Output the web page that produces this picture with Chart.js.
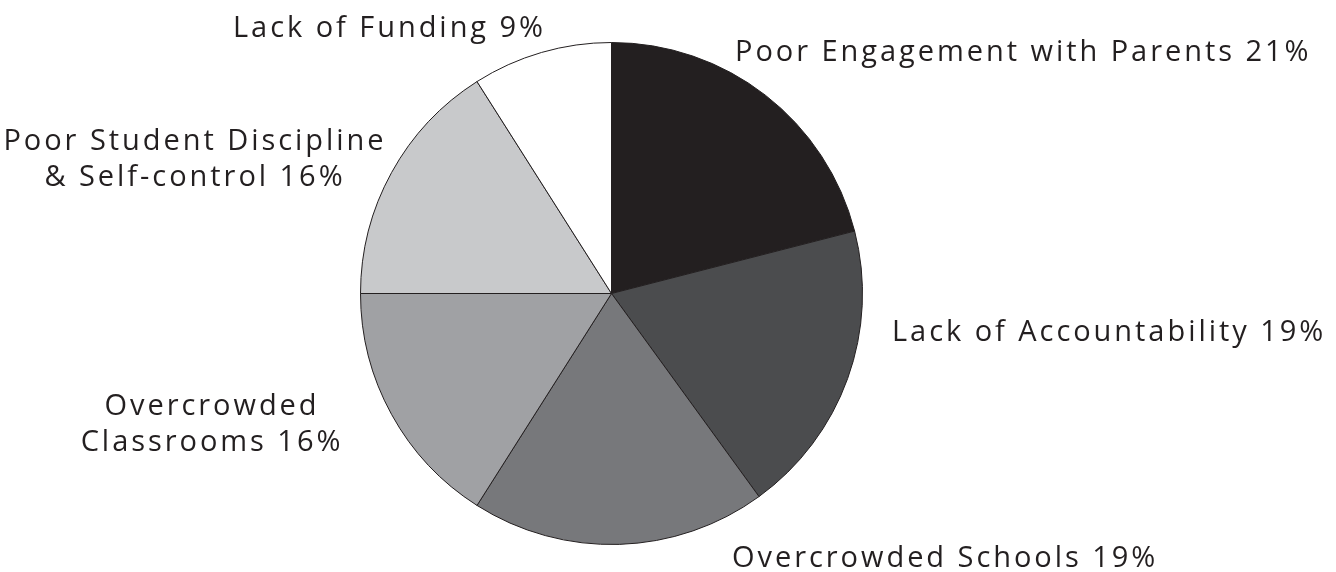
<!DOCTYPE html>
<html>
<head>
<meta charset="utf-8">
<script src="https://cdn.jsdelivr.net/npm/chart.js@4.4.0/dist/chart.umd.min.js"></script>
<style>
html,body{margin:0;padding:0;background:#fff;}
#wrap{width:1336px;height:572px;position:relative;}
</style>
</head>
<body>
<div id="wrap"><canvas id="c" width="1336" height="572"></canvas></div>
<script>
const categories = [
  "Poor Engagement with Parents",
  "Lack of Accountability",
  "Overcrowded Schools",
  "Overcrowded Classrooms",
  "Poor Student Discipline & Self-control",
  "Lack of Funding"
];
const values = [21, 19, 19, 16, 16, 9];
const sliceColors = ["#231f20", "#4b4c4e", "#77787b", "#a0a1a4", "#c8c9cb", "#ffffff"];

// label text lines (real text)
const labelLines = [
  ["Poor Engagement with Parents 21%"],
  ["Lack of Accountability 19%"],
  ["Overcrowded Schools 19%"],
  ["Overcrowded", "Classrooms 16%"],
  ["Poor Student Discipline", "& Self-control 16%"],
  ["Lack of Funding 9%"]
];
// label placement (text only)
const labelLayout = [
  {x: 735, y: 61, align: "left"},
  {x: 892, y: 341, align: "left"},
  {x: 732, y: 567, align: "left"},
  {x: 212, y: 415, align: "center"},
  {x: 195, y: 150, align: "center"},
  {x: 546, y: 37, align: "right"}
];
const lineGap = 36;

const labelPlugin = {
  id: "outerLabels",
  afterDraw(chart) {
    const ctx = chart.ctx;
    ctx.save();
    ctx.font = '500 29px "Open Sans", sans-serif';
    ctx.fillStyle = "#231f20";
    ctx.textBaseline = "alphabetic";
    try { ctx.letterSpacing = "2.95px"; } catch (e) {}
    labelLines.forEach((lines, i) => {
      const L = labelLayout[i];
      ctx.textAlign = L.align;
      lines.forEach((t, j) => {
        ctx.fillText(t, L.x, L.y + j * lineGap);
      });
    });
    ctx.restore();
  }
};

new Chart(document.getElementById("c"), {
  type: "pie",
  data: {
    labels: categories,
    datasets: [{
      data: values,
      backgroundColor: sliceColors,
      borderColor: "#231f20",
      borderWidth: 1,
      hoverOffset: 0
    }]
  },
  options: {
    responsive: false,
    animation: false,
    layout: {padding: {top: 42, bottom: 27, left: 360, right: 473}},
    plugins: {legend: {display: false}, tooltip: {enabled: false}}
  },
  plugins: [labelPlugin]
});
</script>
</body>
</html>
